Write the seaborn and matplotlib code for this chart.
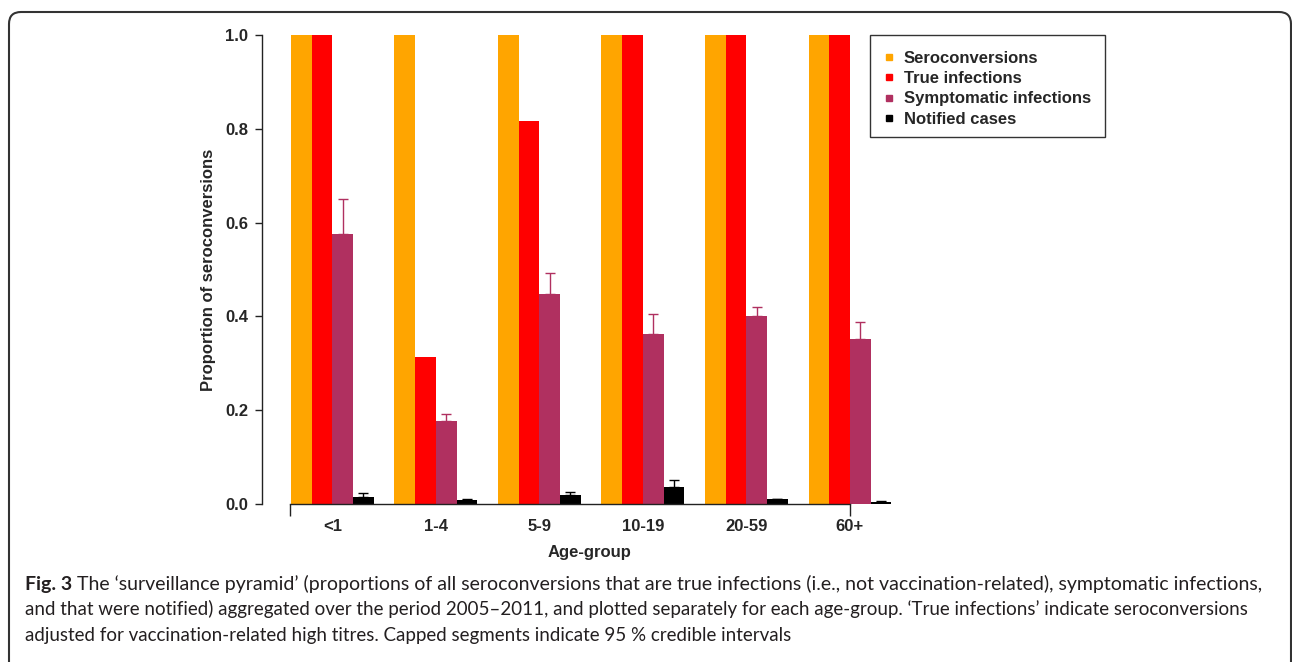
import matplotlib
matplotlib.use("Agg")
import matplotlib.pyplot as plt
import numpy as np
import pandas as pd
import seaborn as sns
from matplotlib.lines import Line2D
from matplotlib.patches import FancyBboxPatch, Rectangle
from matplotlib.transforms import IdentityTransform

# ---- data -------------------------------------------------------------
age_groups = ["<1", "1-4", "5-9", "10-19", "20-59", "60+"]
series = ["Seroconversions", "True infections", "Symptomatic infections", "Notified cases"]

seroconversions = [1.0, 1.0, 1.0, 1.0, 1.0, 1.0]
true_infections = [1.0, 0.314, 0.817, 1.0, 1.0, 1.0]
symptomatic = [0.576, 0.177, 0.448, 0.362, 0.401, 0.352]
symptomatic_upper = [0.650, 0.192, 0.493, 0.405, 0.420, 0.387]
notified = [0.015, 0.008, 0.019, 0.036, 0.010, 0.004]
notified_upper = [0.023, 0.011, 0.026, 0.052, 0.011, 0.006]

yticks = [0.0, 0.2, 0.4, 0.6, 0.8, 1.0]
colors = ["#FFA500", "#FF0000", "#B03060", "#000000"]

caption_bold = "Fig. 3"
caption_lines = [
    " The \u2018surveillance pyramid\u2019 (proportions of all seroconversions that are true "
    "infections (i.e., not vaccination-related), symptomatic infections,",
    "and that were notified) aggregated over the period 2005\u20132011, and plotted separately "
    "for each age-group. \u2018True infections\u2019 indicate seroconversions",
    "adjusted for vaccination-related high titres. Capped segments indicate 95 % credible intervals",
]

# ---- style ------------------------------------------------------------
sns.set_style("ticks")
plt.rcParams["font.family"] = ["Liberation Sans", "DejaVu Sans"]
axis_col = "#222222"

W, H = 1292, 662
fig = plt.figure(figsize=(W / 100, H / 100), dpi=100)


def fx(px):
    return px / W


def fy(py):
    return 1 - py / H


ax = fig.add_axes([fx(262), fy(504), fx(900) - fx(262), (504 - 35) / H])

df = pd.DataFrame({
    "age": age_groups * len(series),
    "series": [s for s in series for _ in age_groups],
    "value": seroconversions + true_infections + symptomatic + notified,
})

sns.barplot(data=df, x="age", y="value", hue="series", order=age_groups,
            hue_order=series, palette=colors, saturation=1, width=0.8,
            linewidth=0, errorbar=None, legend=False, ax=ax)

# one-sided upper credible-interval segments with caps
for idx, vals, ups in [(2, symptomatic, symptomatic_upper), (3, notified, notified_upper)]:
    bars = ax.containers[idx]
    xs = [b.get_x() + b.get_width() / 2 for b in bars]
    v = np.array(vals)
    u = np.array(ups)
    ax.errorbar(xs, v, yerr=[np.zeros_like(v), u - v], fmt="none",
                ecolor=colors[idx], elinewidth=1, capsize=3.5, capthick=1, zorder=3)

ax.set_xlim(-0.68, 5.484)
ax.set_ylim(0, 1)

for s in ["top", "right"]:
    ax.spines[s].set_visible(False)
for s in ["left", "bottom"]:
    ax.spines[s].set_color(axis_col)
    ax.spines[s].set_linewidth(1)
ax.spines["left"].set_bounds(0, 1)
ax.spines["bottom"].set_bounds(-0.41, 5)

ax.set_yticks(yticks)
ax.set_yticklabels([f"{t:.1f}" for t in yticks], fontweight="bold", fontsize=12)
ax.tick_params(axis="y", length=5, width=1, color=axis_col, pad=5, left=True)

ax.set_xticks(range(len(age_groups)))
ax.set_xticklabels(age_groups, fontweight="bold", fontsize=12)
ax.tick_params(axis="x", which="major", length=0, pad=10.5)
ax.xaxis.remove_overlapping_locs = False
ax.set_xticks([-0.41, 5], minor=True)
ax.tick_params(axis="x", which="minor", length=8.5, width=1, color=axis_col,
               direction="out", bottom=True)

ax.set_ylabel("Proportion of seroconversions", fontweight="bold", fontsize=12)
ax.yaxis.set_label_coords((216 - 262) / 638, 0.5)
ax.set_xlabel("Age-group", fontweight="bold", fontsize=12)
ax.xaxis.set_label_coords((590 - 262) / 638, -(545 - 504) / 469)

# legend with small square keys, inside a plain box
handles = [Line2D([], [], marker="s", ls="none", markersize=5,
                  markerfacecolor=c, markeredgecolor=c) for c in colors]
leg = fig.legend(handles, series, loc="upper left",
                 bbox_to_anchor=(fx(882), fy(51)), bbox_transform=fig.transFigure,
                 frameon=False, prop={"weight": "bold", "size": 12}, borderpad=0,
                 labelspacing=0.31, handlelength=0.8, handletextpad=0.5,
                 borderaxespad=0)
fig.patches.append(Rectangle((fx(870), fy(137)), fx(1105) - fx(870), (137 - 35) / H,
                             transform=fig.transFigure, fill=False,
                             edgecolor="#333333", linewidth=1))

# rounded panel border (open at the bottom)
border = FancyBboxPatch((9, -40), 1282, H - 12 + 40,
                        boxstyle="round,pad=0,rounding_size=12",
                        transform=IdentityTransform(), fill=False,
                        edgecolor="#333333", linewidth=1.5)
fig.patches.append(border)

# caption
cap_font = ["Lato", "DejaVu Sans"]
cap_col = "#231f20"
baselines = [590, 615.5, 641]
left_px = 25
line_ends = [1265, 1255]

renderer = fig.canvas.get_renderer()
fs0 = 14
t_b = fig.text(fx(left_px), fy(baselines[0]), caption_bold, fontweight="bold",
               fontsize=fs0, family=cap_font, color=cap_col, va="baseline")
t_lines = [fig.text(fx(left_px), fy(b), line, fontsize=fs0, family=cap_font,
                    color=cap_col, va="baseline") for b, line in zip(baselines, caption_lines)]

# size line 1 and lines 2-3 so they span the caption width
wb = t_b.get_window_extent(renderer).width
w1 = wb + t_lines[0].get_window_extent(renderer).width
w2 = t_lines[1].get_window_extent(renderer).width
fs1 = fs0 * (line_ends[0] - left_px) / w1
fs2 = fs0 * (line_ends[1] - left_px) / w2
t_b.set_fontsize(fs1)
t_lines[0].set_fontsize(fs1)
t_lines[1].set_fontsize(fs2)
t_lines[2].set_fontsize(fs2)
t_lines[0].set_x(fx(left_px + t_b.get_window_extent(renderer).width))

fig.savefig("out.png", dpi=100)
